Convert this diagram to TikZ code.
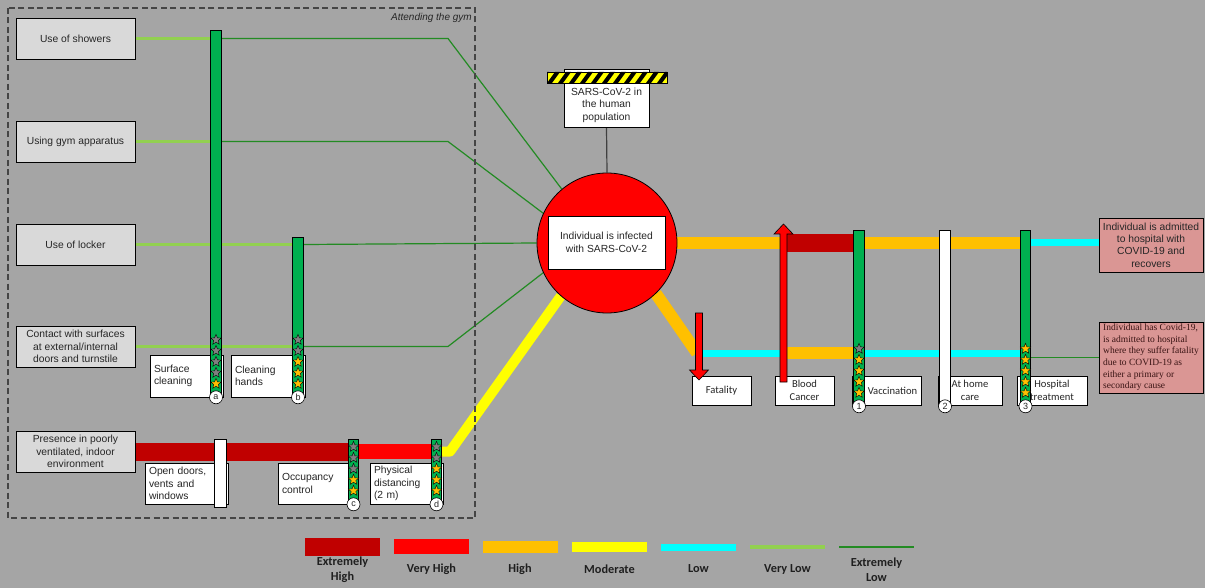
\documentclass[tikz,border=0pt]{standalone}
\usepackage{fontspec}
\setmainfont{Liberation Sans}
\newfontfamily\calibrifont{Carlito}
\newfontfamily\timesfont{Liberation Serif}
\usetikzlibrary{shapes.geometric,calc}

\definecolor{bggray}{HTML}{A5A5A5}
\definecolor{boxgray}{HTML}{D9D9D9}
\definecolor{ehred}{HTML}{C00000}
\definecolor{vhred}{HTML}{FF0000}
\definecolor{horange}{HTML}{FFC000}
\definecolor{myellow}{HTML}{FFFF00}
\definecolor{lcyan}{HTML}{00FFFF}
\definecolor{vlgreen}{HTML}{92D050}
\definecolor{elgreen}{HTML}{238B23}
\definecolor{bargreen}{HTML}{00B050}
\definecolor{stargray}{HTML}{7F7F7F}
\definecolor{outpink}{HTML}{DA9694}
\definecolor{txt}{HTML}{262626}
\definecolor{outtxt}{HTML}{3A1414}
\definecolor{dashgray}{HTML}{454545}

\newcommand\boxfont{\fontsize{10.3}{12.5}\selectfont}
\newcommand\calfont{\calibrifont\fontsize{10.6}{13.5}\selectfont}

\pgfdeclarelayer{bg}
\pgfdeclarelayer{lines}
\pgfsetlayers{bg,lines,main}

\tikzset{
  ehigh/.style={draw=ehred,line width=18pt},
  vhigh/.style={draw=vhred,line width=15pt},
  high/.style={draw=horange,line width=12pt},
  moder/.style={draw=myellow,line width=10pt},
  low/.style={draw=lcyan,line width=7pt},
  vlow/.style={draw=vlgreen,line width=3.5pt},
  elow/.style={draw=elgreen,line width=1.2pt},
  gbox/.style={draw=black,fill=boxgray,line width=0.8pt,inner sep=0pt,
    minimum width=119,minimum height=41,font=\boxfont,text=txt,align=center},
  wbox/.style={draw=black,fill=white,line width=0.8pt,inner xsep=4pt,inner ysep=0pt,
    font=\boxfont,text=txt,align=left},
  rbox/.style={draw=black,fill=white,line width=0.8pt,inner sep=0pt,
    minimum height=29,font=\calfont,text=txt,align=center},
  pbox/.style={draw=black,fill=outpink,line width=0.8pt,inner sep=0pt},
  barrier/.style={draw=black,line width=0.6pt,minimum width=10.5,inner sep=0pt},
  starn/.style={star,star points=5,star point ratio=2.3,minimum size=11,
    inner sep=0pt,draw=black,line width=0.4pt},
  lblc/.style={circle,draw=black,fill=white,line width=0.6pt,minimum size=13,
    inner sep=0pt,font=\fontsize{9}{9}\selectfont,text=txt},
  swatch/.style={minimum width=75,inner sep=0pt},
  legtxt/.style={font=\calibrifont\bfseries\fontsize{12.3}{15}\selectfont,
    text=black!88,align=center},
}

\begin{document}
\begin{tikzpicture}[x=1pt,y=-1pt]
\begin{pgfonlayer}{bg}
  \fill[bggray] (0,0) rectangle (1205,588);
\end{pgfonlayer}
\useasboundingbox (0,0) rectangle (1205,588);

% gym area
\draw[dashgray,line width=1.3pt,dash pattern=on 6pt off 3.5pt] (8,8) rectangle (475,518);
\node[anchor=east,font=\itshape\fontsize{10}{12}\selectfont,text=txt,inner sep=0pt]
  (gymlbl) at (472,18) {Attending the gym};

% hazards
\node[gbox] (showers)   at (75.5,38.5)  {Use of showers};
\node[gbox] (apparatus) at (75.5,141.5) {Using gym apparatus};
\node[gbox] (locker)    at (75.5,244.5) {Use of locker};
\node[gbox] (contact)   at (75.5,346.5) {Contact with surfaces\\at external/internal\\doors and turnstile};
\node[gbox] (presence)  at (75.5,451.5) {Presence in poorly\\ventilated, indoor\\environment};

% barrier labels (gym)
\node[wbox,text width=65,minimum height=42] (surf)  at (186.5,376) {Surface\\cleaning};
\node[wbox,text width=66,minimum height=42] (hands) at (268,376)   {Cleaning\\hands};
\node[wbox,text width=75,minimum height=41] (opend) at (186.5,483.5) {Open doors,\\vents and\\windows};
\node[wbox,text width=72,minimum height=41] (occ)   at (318,483.5) {Occupancy\\control};
\node[wbox,text width=65,minimum height=41] (phys)  at (406.5,483.5) {Physical\\distancing\\(2 m)};

% barrier labels (consequences)
\node[rbox,minimum width=59] (fatal) at (721.5,390.5) {Fatality};
\node[rbox,minimum width=59] (blood) at (804.5,390.5) {Blood\\Cancer};
\node[rbox,minimum width=69] (vacc)  at (886.5,390.5) {\hspace*{12pt}Vaccination};
\node[rbox,minimum width=64] (home)  at (970,390.5)   {At home\\care};
\node[rbox,minimum width=70] (hosp)  at (1052,390.5)  {Hospital\\treatment};

% outcomes
\node[pbox,minimum width=104,minimum height=54,align=center,
  font=\fontsize{10.3}{12.3}\selectfont,text=txt] (admit) at (1151,245)
  {Individual is admitted\\to hospital with\\COVID-19 and\\recovers};
\node[pbox,minimum width=104,minimum height=71,align=left,
  font=\timesfont\fontsize{9.5}{11.6}\selectfont,text=outtxt] (death) at (1151,357.5)
  {Individual has Covid-19,\\is admitted to hospital\\where they suffer fatality\\due to COVID-19 as\\either a primary or\\secondary cause};

% barriers
\node[barrier,fill=bargreen,minimum height=367] (barA) at (216,213.5) {};
\node[barrier,fill=bargreen,minimum height=160] (barB) at (298,317) {};
\node[barrier,fill=white,minimum width=12,minimum height=68] (barO) at (220,473) {};
\node[barrier,fill=bargreen,minimum height=65] (barC) at (353.5,471.5) {};
\node[barrier,fill=bargreen,minimum height=65] (barD) at (436.5,471.5) {};
\node[barrier,fill=bargreen,minimum height=176] (barV) at (859,318) {};
\node[barrier,fill=white,minimum height=176] (barW) at (945,318) {};
\node[barrier,fill=bargreen,minimum height=176] (barH) at (1025.5,318) {};

% effectiveness stars (grey = not effective)
\foreach \b/\n in {barA/4,barB/2,barC/3,barD/2,barV/1,barH/0}{
  \foreach \i in {1,...,5}{
    \ifnum\i>\n\relax\def\sc{horange}\else\def\sc{stargray}\fi
    \node[starn,fill=\sc] (\b-s\i) at ($(\b.south)+(0,{-13.5-11*(5-\i)})$) {};
  }
}
\node[lblc] (labA) at (barA.south) {a};
\node[lblc] (labB) at (barB.south) {b};
\node[lblc] (labC) at (barC.south) {c};
\node[lblc] (labD) at (barD.south) {d};
\node[lblc] (lab1) at (barV.south) {1};
\node[lblc] (lab2) at (barW.south) {2};
\node[lblc] (lab3) at (barH.south) {3};

% escalation factors
\coordinate (bc) at (783.5,382);
\coordinate (ft) at (699,313);
\filldraw[fill=vhred,draw=black,line width=0.6pt]
  (780,382) -- (780,234) -- (774,234) -- (783.5,224) -- (793,234) -- (787,234) -- (787,382) -- cycle;
\filldraw[fill=vhred,draw=black,line width=0.6pt]
  (695.5,313) -- (695.5,370) -- (689.5,370) -- (699,380) -- (708.5,370) -- (702.5,370) -- (702.5,313) -- cycle;

% top event
\node[circle,fill=vhred,draw=black,line width=0.8pt,minimum size=140,inner sep=0pt]
  (inf) at (607,243) {};
\node[draw=black,fill=white,line width=0.8pt,minimum width=117,minimum height=53,
  inner sep=0pt,font=\boxfont,text=txt,align=center] (infbox) at (606.5,242.5)
  {Individual is infected\\with SARS-CoV-2};

% hazard source
\filldraw[fill=white,draw=black,line width=0.8pt] (564,69) rectangle (649,90);
\node[draw=black,fill=white,line width=0.8pt,minimum width=85,minimum height=44,
  inner sep=0pt,font=\boxfont,text=txt,align=center] (popbox) at (606.5,105)
  {SARS-CoV-2 in\\the human\\population};
\begin{scope}
  \clip (547,72) rectangle (667,83);
  \fill[myellow] (547,72) rectangle (667,83);
  \foreach \x in {536,547,...,668}
    \fill[black] (\x,83) -- (\x+5,83) -- (\x+13,72) -- (\x+8,72) -- cycle;
\end{scope}
\draw[black,line width=0.8pt] (547,72) rectangle (667,83);

% risk pathways
\coordinate (k1) at (448,38.5);
\coordinate (k2) at (448,141.5);
\coordinate (k4) at (448,346.5);
\coordinate (ybend) at (450,451.5);
\coordinate (obend) at (697,353);
\begin{pgfonlayer}{lines}
  \draw[black!75,line width=1.2pt] (popbox.south) -- (inf.north);
  \draw[vlow] (showers.east) -- (barA.west |- showers.east);
  \draw[elow] (barA.east |- showers.east) -- (k1) -- (inf.130);
  \draw[vlow] (apparatus.east) -- (barA.west |- apparatus.east);
  \draw[elow] (barA.east |- apparatus.east) -- (k2) -- (inf.155);
  \draw[vlow] (locker.east) -- (barB.west |- locker.east);
  \draw[elow] (barB.east |- locker.east) -- (inf.west);
  \draw[vlow] (contact.east) -- (barB.west |- contact.east);
  \draw[elow] (barB.east |- contact.east) -- (k4) -- (inf.205);
  \draw[ehigh] (presence.east) -- (barC.west |- presence.east);
  \draw[vhigh] (barC.east |- presence.east) -- (barD.west |- presence.east);
  \draw[moder,line join=round] (barD.east |- presence.east) -- (ybend) -- (inf.229);
  % consequences
  \draw[high] (inf.east) -- (bc |- inf.east);
  \draw[ehigh] (bc |- inf.east) -- (barV.west |- inf.east);
  \draw[high] (barV.east |- inf.east) -- (barH.west |- inf.east);
  \draw[low] (barH.east |- inf.east) -- (admit.west |- inf.east);
  \draw[high,line join=round] (inf.314) -- (obend);
  \draw[low] (obend) -- (bc |- obend);
  \draw[high] (bc |- obend) -- (barV.west |- obend);
  \draw[low] (barV.east |- obend) -- (barH.west |- obend);
  \draw[elow] (barH.east |- death.west) -- (death.west);
\end{pgfonlayer}

% legend
\node[swatch,fill=ehred,minimum height=18]   (lgEH) at (342.5,547) {};
\node[swatch,fill=vhred,minimum height=15]   (lgVH) at (431.5,546.5) {};
\node[swatch,fill=horange,minimum height=12] (lgH)  at (520,547) {};
\node[swatch,fill=myellow,minimum height=10] (lgM)  at (609.5,547) {};
\node[swatch,fill=lcyan,minimum height=7]    (lgL)  at (698.5,547.5) {};
\node[swatch,fill=vlgreen,minimum height=4]  (lgVL) at (787.5,547) {};
\node[swatch,fill=elgreen,minimum height=1.5](lgEL) at (876.5,547) {};
\node[legtxt] (tEH) at (342.5,569.5) {Extremely\\High};
\node[legtxt] (tVH) at (431.5,569) {Very High};
\node[legtxt] (tH)  at (520,569)   {High};
\node[legtxt] (tM)  at (609.5,569) {Moderate};
\node[legtxt] (tL)  at (698.5,569) {Low};
\node[legtxt] (tVL) at (787.5,569) {Very Low};
\node[legtxt] (tEL) at (876.5,569.5) {Extremely\\Low};
\end{tikzpicture}
\end{document}
